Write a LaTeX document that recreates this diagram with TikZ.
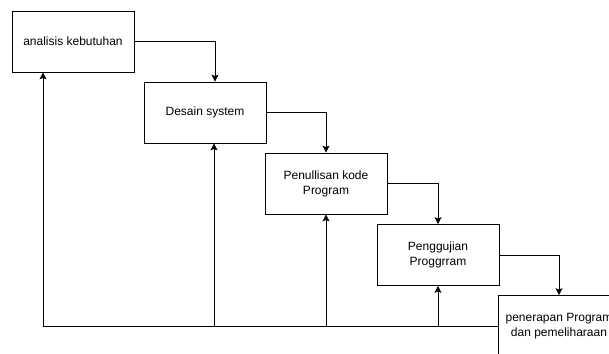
\documentclass[tikz,border=0pt]{standalone}
\usepackage{fontspec}
\setmainfont{Liberation Sans}
\usetikzlibrary{arrows.meta}
\begin{document}
\begin{tikzpicture}[x=1pt,y=-1pt,
  stage/.style={draw=black,line width=0.8pt,fill=white,minimum width=122pt,minimum height=61pt,
    inner sep=0pt,align=center,font=\fontsize{12}{15}\selectfont},
  link/.style={draw=black,line width=0.8pt,-{Stealth[length=7pt,width=7pt,inset=1.5pt]}}]
\useasboundingbox (0,0) rectangle (609,353);
\clip (0,0) rectangle (609,353);
\node[stage] (a) at (73,41.5) {analisis kebutuhan};
\node[stage] (b) at (205,112.5) {Desain system};
\node[stage] (c) at (326,183.5) {Penullisan kode\\Program};
\node[stage] (d) at (438,255) {Penggujian\\Proggrram};
\node[stage] (e) at (559,326) {penerapan Program\\dan pemeliharaan};
\draw[link] (a.east) -| ([xshift=10pt]b.north);
\draw[link] (b.east) -| (c.north);
\draw[link] (c.east) -| (d.north);
\draw[link] (d.east) -| (e.north);
\draw[link] (e.west) -| ([xshift=-30pt]a.south);
\draw[link] ([xshift=9pt]b.south |- e.west) -- ([xshift=9pt]b.south);
\draw[link] (c.south |- e.west) -- (c.south);
\draw[link] (d.south |- e.west) -- (d.south);
\end{tikzpicture}
\end{document}
